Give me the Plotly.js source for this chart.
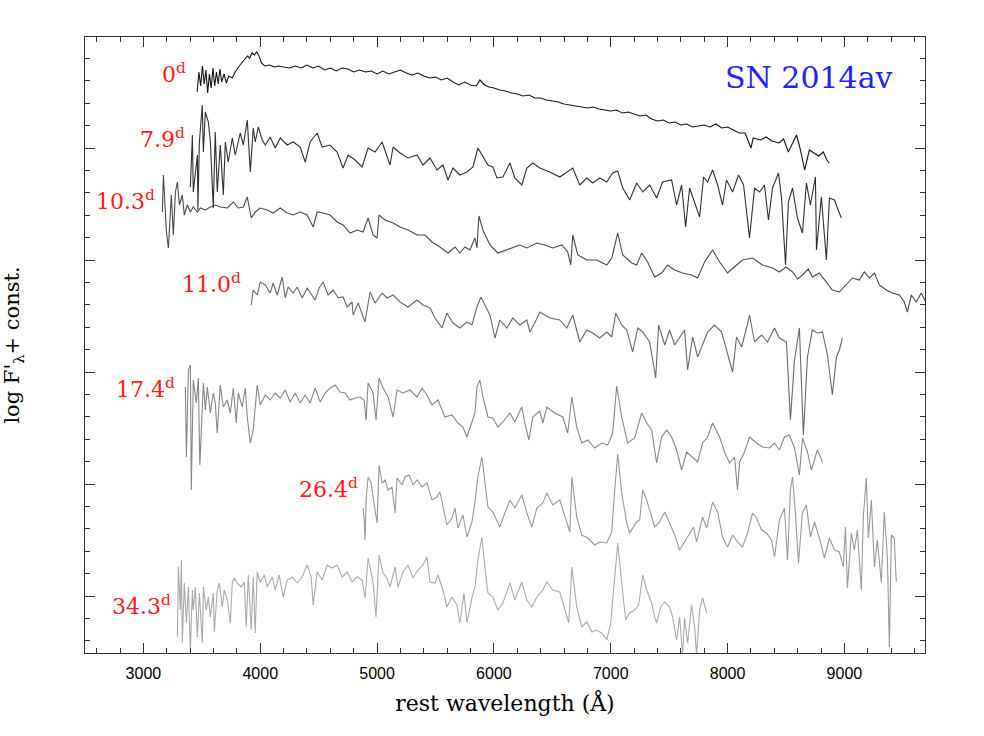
<!DOCTYPE html>
<html>
<head>
<meta charset="utf-8">
<script src="https://cdn.plot.ly/plotly-3.0.1.min.js"></script>
<style>
  body { margin: 0; background: #fff; }
  #plot { width: 984px; height: 736px; }
</style>
</head>
<body>
<div id="plot"></div>
<script>
// epochs (days) of each spectrum
var epochs = ['0', '7.9', '10.3', '11.0', '17.4', '26.4', '34.3'];

// 0d
var wave_0 = [3460,3475,3490,3505,3520,3535,3550,3565,3580,3595,3610,3625,3640,3655,3670,3690,3710,3730,3760,3790,
  3820,3850,3870,3890,3910,3930,3950,3970,3990,4010,4040,4080,4120,4160,4200,4250,4300,4350,4400,4450,
  4500,4550,4600,4650,4700,4750,4800,4850,4900,4950,5000,5050,5100,5150,5200,5250,5300,5350,5400,5450,
  5500,5550,5600,5650,5700,5750,5800,5850,5880,5920,5960,6000,6050,6100,6150,6200,6250,6300,6350,6400,
  6450,6500,6550,6600,6650,6700,6750,6800,6850,6900,6950,7000,7050,7100,7150,7200,7250,7300,7350,7400,
  7450,7500,7550,7600,7650,7700,7750,7800,7850,7900,7950,8000,8050,8100,8150,8200,8220,8280,8330,8380,
  8440,8480,8520,8560,8590,8620,8660,8700,8740,8780,8820,8850,8870];
var flux_0 = [5.61,5.81,5.67,5.87,5.69,5.83,5.60,5.79,5.65,5.85,5.67,5.81,5.69,5.84,5.71,5.79,5.70,5.77,5.75,5.82,
  5.87,5.91,5.94,5.97,5.95,6.00,5.98,6.01,5.97,5.90,5.87,5.88,5.86,5.87,5.86,5.85,5.87,5.85,5.88,5.85,
  5.87,5.83,5.85,5.82,5.85,5.84,5.81,5.83,5.81,5.82,5.79,5.82,5.79,5.81,5.83,5.80,5.78,5.80,5.77,5.75,
  5.76,5.73,5.75,5.71,5.68,5.71,5.68,5.67,5.73,5.68,5.66,5.65,5.63,5.62,5.60,5.59,5.57,5.58,5.55,5.55,
  5.53,5.52,5.51,5.49,5.48,5.47,5.46,5.45,5.46,5.44,5.43,5.42,5.43,5.40,5.41,5.39,5.37,5.38,5.34,5.32,
  5.33,5.30,5.31,5.28,5.29,5.26,5.27,5.28,5.26,5.29,5.25,5.26,5.23,5.20,5.20,5.05,5.15,5.13,5.16,5.12,
  5.10,5.14,5.01,5.11,5.18,5.05,4.83,5.03,5.00,4.97,5.01,4.93,4.90];

// 7.9d
var wave_79 = [3402,3419,3427,3462,3466,3479,3504,3513,3530,3556,3573,3598,3615,3632,3658,3684,3701,3726,3761,3786,
  3829,3855,3889,3915,3940,3957,3983,4017,4043,4085,4128,4171,4231,4282,4342,4385,4427,4487,4530,4598,
  4658,4709,4752,4812,4872,4923,4983,5043,5111,5137,5197,5265,5342,5393,5453,5513,5564,5607,5650,5709,
  5769,5821,5863,5897,5949,5991,6026,6077,6137,6179,6239,6282,6333,6393,6479,6564,6624,6675,6735,6795,
  6846,6906,6966,7017,7060,7103,7162,7222,7274,7333,7393,7444,7521,7564,7607,7641,7675,7718,7761,7795,
  7829,7872,7915,7957,7991,8043,8094,8137,8188,8231,8274,8316,8350,8385,8436,8462,8496,8521,8556,8598,
  8641,8675,8709,8752,8761,8803,8846,8872,8915,8940,8974];
var flux_79 = [4.66,5.18,4.61,4.98,4.43,5.11,5.48,5.01,5.41,5.31,5.11,4.45,5.21,4.61,5.08,4.58,5.11,4.91,5.15,4.98,
  5.20,5.08,5.33,4.81,5.25,5.11,5.26,5.13,5.08,5.16,5.05,5.15,5.08,5.11,5.06,4.91,5.11,5.20,5.06,5.08,
  5.01,4.85,4.98,4.93,4.86,5.05,5.01,5.11,4.88,5.06,5.00,4.95,4.98,4.88,4.95,4.83,4.88,4.73,4.85,4.78,
  4.81,4.86,5.05,4.98,4.88,4.86,4.75,4.76,4.90,4.75,4.68,4.85,4.90,4.85,4.81,4.76,4.81,4.85,4.68,4.75,
  4.70,4.75,4.71,4.80,4.82,4.65,4.53,4.70,4.61,4.68,4.55,4.71,4.73,4.48,4.68,4.26,4.65,4.51,4.36,4.76,
  4.71,4.83,4.68,4.48,4.73,4.61,4.78,4.68,4.15,4.65,4.61,4.68,4.33,4.65,4.80,4.55,3.88,4.51,4.65,4.35,
  4.20,4.70,4.48,4.76,4.03,4.56,3.93,4.55,4.53,4.45,4.35];

// 10.3d
var wave_103 = [3162,3171,3197,3214,3239,3256,3274,3291,3308,3333,3350,3376,3402,3427,3462,3487,3530,3573,3615,3658,
  3718,3769,3812,3855,3889,3923,3957,4000,4060,4111,4171,4231,4282,4342,4402,4453,4487,4538,4598,4658,
  4709,4769,4829,4880,4923,4966,5000,5017,5068,5137,5197,5265,5342,5410,5470,5538,5607,5667,5709,5752,
  5795,5838,5855,5872,5906,5966,6034,6111,6162,6222,6282,6368,6436,6504,6581,6632,6658,6675,6718,6795,
  6880,6966,7009,7060,7103,7179,7222,7265,7316,7376,7436,7487,7547,7615,7692,7744,7803,7872,7932,8000,
  8077,8128,8214,8299,8385,8444,8500,8556,8600,8641,8690,8726,8786,8846,8897,8957,9017,9068,9128,9171,
  9214,9257,9299,9359,9410,9470,9513,9539,9573,9615,9658,9701];
var flux_103 = [4.41,4.78,4.21,4.05,4.58,4.18,4.61,4.71,4.48,4.58,4.38,4.48,4.41,4.46,4.41,4.45,4.43,4.46,4.48,4.46,
  4.45,4.51,4.45,4.46,4.56,4.35,4.41,4.45,4.43,4.40,4.45,4.40,4.38,4.41,4.38,4.26,4.41,4.40,4.38,4.31,
  4.28,4.20,4.23,4.21,4.35,4.18,4.15,4.38,4.33,4.30,4.26,4.23,4.18,4.18,4.11,4.06,4.00,4.06,4.00,4.06,
  4.03,4.15,4.05,4.37,4.23,4.08,4.00,4.03,4.05,4.08,4.05,4.10,4.08,4.05,4.08,4.01,3.88,4.18,3.98,3.93,
  3.93,3.88,3.95,4.20,3.98,3.90,3.88,4.00,3.91,3.76,3.80,3.88,3.83,3.80,3.78,3.75,3.91,4.03,3.91,3.80,
  3.88,3.93,3.95,3.88,3.85,3.81,3.86,3.81,3.74,3.78,3.84,3.76,3.80,3.71,3.63,3.61,3.68,3.75,3.73,3.81,
  3.75,3.80,3.68,3.63,3.60,3.58,3.51,3.41,3.58,3.51,3.60,3.50];

// 11.0d
var wave_110 = [3923,3940,3974,4000,4043,4085,4111,4145,4188,4214,4239,4282,4316,4359,4402,4444,4470,4504,4538,4581,
  4624,4667,4709,4744,4786,4795,4838,4897,4940,4983,5043,5086,5137,5197,5265,5342,5393,5453,5496,5556,
  5598,5650,5709,5769,5812,5855,5889,5923,5966,6009,6051,6111,6162,6222,6282,6308,6350,6393,6479,6564,
  6624,6675,6735,6795,6846,6906,6966,7009,7043,7094,7137,7188,7231,7274,7333,7385,7410,7462,7504,7547,
  7590,7632,7658,7701,7744,7786,7829,7889,7949,7991,8043,8077,8120,8162,8188,8231,8291,8342,8402,8444,
  8504,8538,8573,8615,8649,8684,8726,8769,8812,8855,8897,8932,8957,8983];
var flux_110 = [3.48,3.63,3.58,3.71,3.68,3.60,3.70,3.58,3.76,3.55,3.66,3.60,3.66,3.55,3.65,3.58,3.53,3.65,3.71,3.58,
  3.63,3.55,3.56,3.46,3.51,3.38,3.50,3.31,3.61,3.50,3.60,3.55,3.58,3.51,3.46,3.53,3.48,3.45,3.35,3.25,
  3.40,3.30,3.25,3.31,3.28,3.46,3.56,3.48,3.38,3.15,3.33,3.25,3.35,3.28,3.33,3.21,3.30,3.41,3.35,3.33,
  3.25,3.38,3.11,3.23,3.20,3.15,3.21,3.16,3.40,3.28,3.23,3.01,3.25,3.21,3.11,2.75,3.28,3.08,3.23,3.08,
  3.16,3.23,2.83,3.16,2.96,3.08,3.21,3.28,3.21,3.03,2.81,3.16,3.06,3.25,3.38,3.11,3.18,3.11,3.25,3.15,
  3.11,2.33,2.93,3.25,2.18,2.96,3.23,3.20,3.21,2.98,2.58,2.96,3.03,3.15];

// 17.4d
var wave_174 = [3359,3368,3385,3402,3410,3427,3453,3470,3483,3513,3530,3547,3573,3598,3615,3632,3658,3684,3718,3744,
  3769,3795,3812,3846,3872,3889,3915,3940,3974,4000,4043,4085,4128,4171,4214,4256,4299,4342,4385,4427,
  4470,4513,4556,4598,4641,4684,4726,4769,4812,4855,4889,4906,4923,4966,4991,5017,5051,5094,5137,5171,
  5222,5282,5342,5385,5427,5470,5521,5581,5641,5692,5735,5769,5812,5838,5855,5880,5906,5949,5991,6034,
  6077,6137,6179,6239,6265,6299,6333,6393,6419,6453,6521,6590,6632,6667,6709,6752,6803,6863,6923,6974,
  7017,7051,7094,7145,7205,7265,7308,7350,7393,7436,7479,7521,7564,7607,7650,7701,7744,7786,7829,7872,
  7932,7974,8017,8060,8085,8103,8145,8188,8248,8299,8359,8402,8444,8487,8530,8573,8615,8641,8684,8718,
  8769,8812];
var flux_174 = [2.66,1.96,2.83,2.88,1.63,2.73,2.50,2.75,1.88,2.70,2.43,2.66,2.40,2.60,2.50,2.20,2.68,2.46,2.53,2.40,
  2.65,2.30,2.60,2.46,2.65,2.36,2.10,2.23,2.68,2.48,2.58,2.53,2.60,2.55,2.63,2.51,2.60,2.50,2.58,2.50,
  2.65,2.51,2.60,2.65,2.68,2.61,2.60,2.53,2.55,2.56,2.53,2.33,2.70,2.60,2.33,2.75,2.65,2.56,2.36,2.63,
  2.60,2.63,2.56,2.65,2.58,2.48,2.53,2.36,2.38,2.30,2.26,2.16,2.31,2.40,2.66,2.73,2.56,2.36,2.35,2.26,
  2.31,2.40,2.31,2.46,2.30,2.13,2.36,2.42,2.30,2.46,2.40,2.36,2.20,2.56,2.26,2.10,2.13,2.05,2.10,2.08,
  2.20,2.67,2.36,2.10,2.15,2.40,2.30,2.23,1.90,2.16,2.23,2.16,2.03,1.83,2.01,1.96,1.91,2.10,2.16,2.30,
  2.16,2.01,1.90,1.96,1.63,1.91,2.01,2.16,2.10,2.06,2.05,2.10,2.03,2.16,2.18,2.05,1.78,2.15,2.01,1.83,
  2.03,1.91];

// 26.4d
var wave_264 = [4880,4889,4897,4906,4923,4949,4966,5000,5017,5043,5068,5094,5128,5154,5171,5214,5239,5274,5308,5342,
  5385,5427,5470,5513,5538,5564,5598,5641,5667,5692,5735,5769,5812,5838,5863,5897,5923,5949,5991,6051,
  6094,6137,6179,6239,6282,6325,6368,6419,6453,6504,6564,6607,6650,6667,6709,6752,6803,6863,6906,6966,
  7009,7034,7060,7094,7137,7162,7222,7248,7274,7308,7350,7376,7419,7462,7504,7547,7590,7632,7675,7709,
  7735,7786,7821,7872,7915,7957,8000,8043,8085,8128,8171,8214,8248,8291,8333,8376,8402,8444,8487,8513,
  8538,8556,8581,8607,8641,8675,8709,8744,8786,8829,8872,8915,8957,8991,9009,9026,9060,9085,9111,9145,
  9162,9188,9205,9231,9257,9282,9316,9342,9368,9385,9402,9427,9444];
var flux_264 = [1.45,1.35,1.13,1.53,1.76,1.70,1.56,1.30,1.88,1.70,1.73,1.63,1.66,1.40,1.75,1.68,1.76,1.78,1.68,1.73,
  1.66,1.70,1.53,1.56,1.61,1.46,1.28,1.35,1.45,1.25,1.38,1.16,1.31,1.51,1.76,1.96,1.70,1.46,1.41,1.26,
  1.40,1.53,1.45,1.58,1.40,1.26,1.45,1.50,1.60,1.48,1.53,1.36,1.21,1.76,1.36,1.18,1.15,1.08,1.11,1.10,
  1.21,1.63,1.99,1.60,1.30,1.20,1.31,1.33,1.63,1.53,1.36,1.26,1.31,1.41,1.30,1.18,1.03,1.11,1.20,1.26,
  1.11,1.36,1.25,1.51,1.41,1.16,1.06,1.18,1.11,1.06,1.20,1.40,1.35,1.23,1.20,1.13,0.96,1.33,1.45,0.93,
  1.63,1.76,1.40,0.90,1.40,1.48,1.16,1.31,1.15,0.95,1.15,1.03,1.01,0.86,1.26,0.65,1.20,1.03,1.23,0.63,
  1.36,1.75,1.15,1.53,0.86,1.13,0.71,1.41,0.96,0.06,1.18,1.15,0.71];

// 34.3d
var wave_343 = [3291,3299,3316,3325,3333,3350,3368,3385,3402,3419,3427,3444,3462,3479,3504,3513,3538,3556,3573,3598,
  3607,3632,3650,3675,3692,3718,3744,3761,3778,3803,3838,3863,3880,3898,3923,3940,3957,3974,4000,4034,
  4060,4103,4128,4162,4197,4231,4274,4316,4359,4402,4436,4453,4487,4530,4573,4615,4658,4701,4744,4786,
  4829,4872,4897,4923,4966,4991,5017,5051,5085,5111,5154,5179,5222,5265,5308,5350,5393,5427,5453,5496,
  5521,5564,5598,5641,5684,5709,5744,5769,5812,5838,5863,5897,5923,5949,5991,6034,6077,6137,6179,6239,
  6282,6325,6368,6419,6453,6504,6564,6607,6641,6667,6709,6752,6795,6838,6880,6923,6966,7000,7026,7060,
  7094,7128,7162,7205,7239,7274,7308,7350,7376,7393,7427,7462,7504,7530,7564,7590,7615,7632,7658,7692,
  7718,7735,7761,7786,7821];
var flux_343 = [0.16,0.86,0.43,0.93,0.10,0.70,0.30,0.66,0.03,0.63,0.43,0.66,0.16,0.60,0.10,0.66,0.43,0.56,0.36,0.60,
  0.21,0.63,0.70,0.46,0.63,0.53,0.30,0.71,0.75,0.70,0.66,0.71,0.26,0.78,0.23,0.76,0.20,0.81,0.71,0.78,
  0.66,0.76,0.63,0.78,0.56,0.73,0.76,0.70,0.76,0.88,0.76,0.48,0.81,0.73,0.88,0.85,0.88,0.76,0.81,0.71,
  0.76,0.73,0.55,0.95,0.70,0.36,0.98,0.80,0.75,0.66,0.86,0.66,0.81,0.88,0.75,0.83,0.88,0.96,0.71,0.70,
  0.78,0.63,0.46,0.56,0.48,0.30,0.60,0.30,0.55,0.66,0.93,1.16,0.86,0.60,0.56,0.43,0.50,0.70,0.53,0.71,
  0.53,0.46,0.56,0.63,0.71,0.63,0.61,0.43,0.30,0.86,0.46,0.26,0.31,0.21,0.23,0.20,0.13,0.30,0.63,1.10,
  0.70,0.33,0.40,0.43,0.48,0.78,0.63,0.50,0.36,0.30,0.46,0.51,0.46,0.36,0.13,0.36,-0.02,0.35,0.10,0.48,
  0.26,-0.02,0.43,0.55,0.40];

var waves = [wave_0, wave_79, wave_103, wave_110, wave_174, wave_264, wave_343];
var fluxes = [flux_0, flux_79, flux_103, flux_110, flux_174, flux_264, flux_343];
var colors = ['#151515', '#303030', '#4a4a4a', '#686868', '#878787', '#989898', '#aaaaaa'];

var data = waves.map(function (w, i) {
  return {
    x: w,
    y: fluxes[i],
    type: 'scatter',
    mode: 'lines',
    line: {color: colors[i], width: 1.1},
    hoverinfo: 'skip',
    showlegend: false
  };
});

// label anchors (right edge, middle) in axis units
var labelX = [3385, 3376, 3120, 3855, 3290, 4855, 3256];
var labelY = [5.80, 5.15, 4.53, 3.70, 2.65, 1.65, 0.48];

var annotations = epochs.map(function (e, i) {
  return {
    x: labelX[i], y: labelY[i], xref: 'x', yref: 'y',
    text: e + '<sup>d</sup>',
    showarrow: false, xanchor: 'right', yanchor: 'middle',
    font: {family: 'DejaVu Serif', size: 22, color: '#ff1a1a'}
  };
});
annotations.push({
  x: 0.862, y: 0.935, xref: 'paper', yref: 'paper',
  text: 'SN 2014av', showarrow: false, xanchor: 'center', yanchor: 'middle',
  font: {family: 'DejaVu Serif', size: 30, color: '#2222ff'}
});

var layout = {
  width: 984,
  height: 736,
  margin: {l: 85, r: 59, t: 37, b: 83},
  paper_bgcolor: '#fff',
  plot_bgcolor: '#fff',
  xaxis: {
    range: [2500, 9690],
    tick0: 3000, dtick: 1000,
    ticks: 'inside', ticklen: 10, tickcolor: '#333', tickwidth: 1,
    minor: {dtick: 200, tick0: 3000, ticks: 'inside', ticklen: 5, tickcolor: '#333', showgrid: false},
    showgrid: false, zeroline: false,
    showline: true, linecolor: '#333', linewidth: 1, mirror: 'allticks',
    ticklabelstandoff: 6,
    tickfont: {family: 'Liberation Sans', size: 16, color: '#000'},
    title: {text: 'rest wavelength (Å)', font: {family: 'DejaVu Serif', size: 22, color: '#000'}, standoff: 14}
  },
  yaxis: {
    range: [0, 6.16],
    tick0: 0.57, dtick: 1.12,
    ticks: 'inside', ticklen: 10, tickcolor: '#333', tickwidth: 1,
    minor: {dtick: 0.224, tick0: 0.57, ticks: 'inside', ticklen: 5, tickcolor: '#333', showgrid: false},
    showticklabels: false,
    showgrid: false, zeroline: false,
    showline: true, linecolor: '#333', linewidth: 1, mirror: 'allticks',
    title: {text: "log F'<sub>λ</sub>+ const.", font: {family: 'DejaVu Serif', size: 21, color: '#000'}, standoff: 58}
  },
  annotations: annotations
};

Plotly.newPlot('plot', data, layout, {displayModeBar: false, staticPlot: true});
</script>
</body>
</html>
